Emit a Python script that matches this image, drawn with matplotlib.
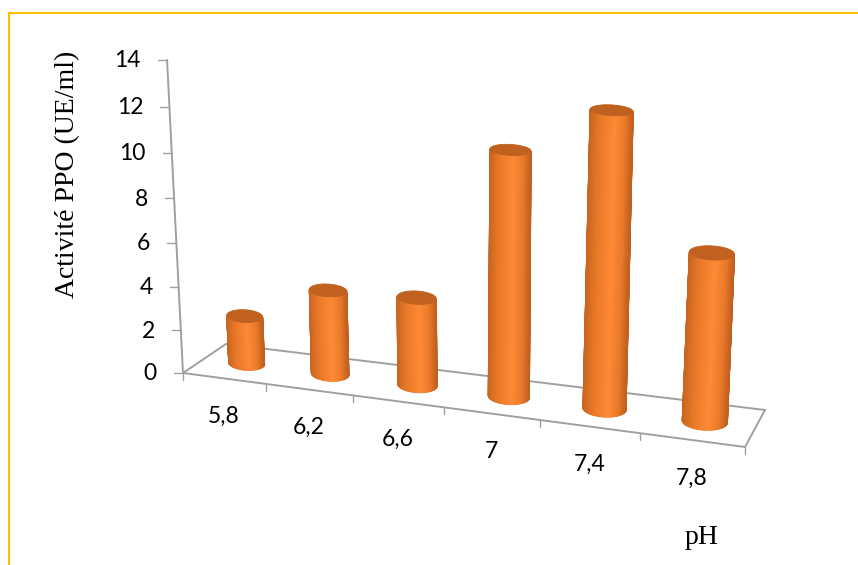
import numpy as np
import matplotlib
matplotlib.use("Agg")
import matplotlib.pyplot as plt
from matplotlib.colors import LinearSegmentedColormap

categories = ["5,8", "6,2", "6,6", "7", "7,4", "7,8"]
values = [2.2, 3.7, 3.7, 9.75, 11.2, 6.15]
y_ticks = [0, 2, 4, 6, 8, 10, 12, 14]
y_label = "Activité PPO (UE/ml)"
x_label = "pH"

W, H = 858, 565
fig = plt.figure(figsize=(W / 100, H / 100), dpi=100, facecolor="white")
ax = fig.add_axes([0, 0, 1, 1])
ax.set_xlim(0, W)
ax.set_ylim(H, 0)
ax.axis("off")

# perspective of the chart box: floor corners, vertical vanishing point
corners_src = [(0, 0), (6, 0), (6, 1), (0, 1)]
corners_dst = [(183, 373), (745, 447), (765, 410), (226, 344)]
VP = np.array([470.0, 6000.0])


def homography(src, dst):
    A, b = [], []
    for (u, v), (x, y) in zip(src, dst):
        A.append([u, v, 1, 0, 0, 0, -u * x, -v * x])
        A.append([0, 0, 0, u, v, 1, -u * y, -v * y])
        b += [x, y]
    return np.append(np.linalg.solve(np.array(A, float), np.array(b, float)), 1).reshape(3, 3)


HM = homography(corners_src, corners_dst)


def floor(u, v):
    p = HM @ np.array([u, v, 1.0])
    return p[:2] / p[2]


def spacing(u, v):
    return np.linalg.norm(floor(u + 0.5, v) - floor(u - 0.5, v))


def lift(u, v, z):
    b = floor(u, v)
    d = (b - VP) / np.linalg.norm(b - VP)
    s = 0.259 * spacing(u, v)
    return b + d * s * z * (1 + 0.0038 * z)


GREY = "#a0a0a0"
kw = dict(color=GREY, lw=1.4, solid_capstyle="round", zorder=1)


def seg(a, b, **k):
    ax.plot([a[0], b[0]], [a[1], b[1]], **{**kw, **k})


# floor outline
for a, b in [((0, 0), (6, 0)), ((6, 0), (6, 1)), ((6, 1), (0, 1)), ((0, 1), (0, 0))]:
    seg(floor(*a), floor(*b))
# value axis and ticks
seg(lift(0, 0, 0), lift(0, 0, y_ticks[-1]))
for t in y_ticks:
    p = lift(0, 0, t)
    seg(p, p + np.array([-9, 0]), lw=1.0)
    ax.text(p[0] - 26, p[1] + 1, str(t), ha="right", va="center", fontsize=16.5,
            family="Lato", color="black")
# category ticks and labels
for i in range(len(categories) + 1):
    p = floor(i, 0)
    seg(p, p + np.array([0, 7]), lw=1.0)
for i, c in enumerate(categories):
    p = floor(i + 0.5, 0)
    ax.text(p[0], p[1] + 38, c, ha="center", va="center", fontsize=16.5,
            family="Lato", color="black")

ax.text(68, 174, y_label, rotation=90, ha="center", va="center", fontsize=20,
        family="Liberation Serif", color="black")
ax.text(702, 538, x_label, ha="center", va="center", fontsize=20,
        family="Liberation Serif", color="black")

# cylinders
side = LinearSegmentedColormap.from_list(
    "side", [(0, "#c9651f"), (0.2, "#e67727"), (0.58, "#ff8a36"), (0.82, "#ea7a29"), (1, "#c26020")])
theta = np.linspace(np.pi, 0, 60)
RADIUS = 0.218
TILT = 0.06


def ring(c, a, th, z):
    ratio = 0.38 - 0.0115 * z
    x = a * np.cos(th)
    y = ratio * a * np.sin(th)
    return c[0] + x - TILT * y, c[1] + y + TILT * x


for i, val in enumerate(values):
    u, v = i + 0.515, 0.5
    base, top = floor(u, v), lift(u, v, val)
    a = RADIUS * spacing(u, v)
    xb, yb = ring(base, a, theta, 0)
    xt2, yt2 = ring(top, a, theta, val)
    X = np.vstack([xb, xt2])
    Y = np.vstack([yb, yt2])
    C = np.vstack([(xb - xb.min()) / (xb.max() - xb.min()),
                   (xt2 - xt2.min()) / (xt2.max() - xt2.min())])
    ax.pcolormesh(X, Y, C, cmap=side, shading="gouraud", vmin=0, vmax=1, zorder=3)
    th2 = np.linspace(0, 2 * np.pi, 80)
    xc, yc = ring(top, a, th2, val)
    ax.fill(xc, yc, color="#c0611f", lw=0.6, zorder=4)

# picture frame
ax.plot([8.5, 8.5], [565, 13], color="#ffc000", lw=1.5, zorder=5, solid_capstyle="projecting")
ax.plot([8.5, 858], [13, 13], color="#ffc000", lw=1.5, zorder=5, solid_capstyle="projecting")

fig.savefig("out.png", dpi=100)
